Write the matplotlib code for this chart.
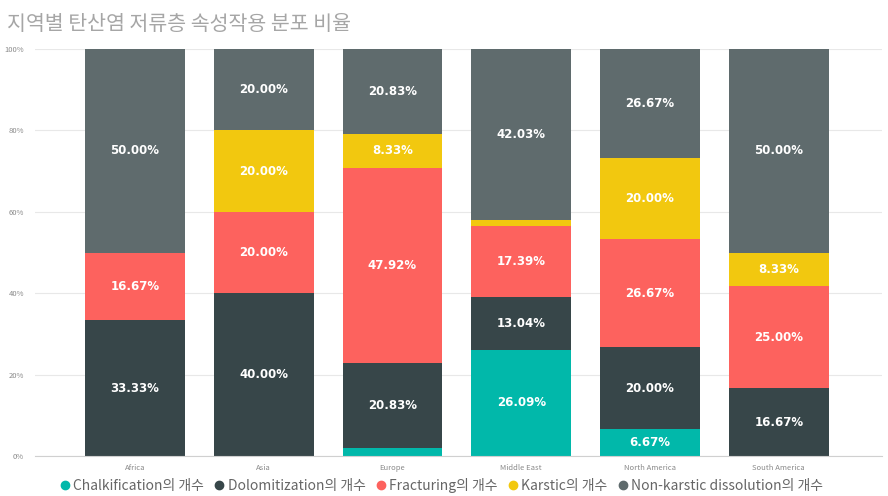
import numpy as np
import matplotlib.pyplot as plt
from matplotlib.lines import Line2D

plt.rcParams['font.family'] = ['Noto Sans CJK KR', 'DejaVu Sans']

regions = ['Africa', 'Asia', 'Europe', 'Middle East', 'North America', 'South America']
series = ['Chalkification', 'Dolomitization', 'Fracturing', 'Karstic', 'Non-karstic dissolution']

chalk = [0.00, 0.00, 2.08, 26.09, 6.67, 0.00]
dolo = [33.33, 40.00, 20.83, 13.04, 20.00, 16.67]
frac = [16.67, 20.00, 47.92, 17.39, 26.67, 25.00]
karst = [0.00, 20.00, 8.33, 1.45, 20.00, 8.33]
nonkarst = [50.00, 20.00, 20.83, 42.03, 26.67, 50.00]

colors = ['#01B8AA', '#374649', '#FD625E', '#F2C80F', '#5F6B6D']

data = np.array([chalk, dolo, frac, karst, nonkarst])

fig = plt.figure(figsize=(8.88, 4.96), dpi=100)
ax = fig.add_axes([0.0394, 0.0806, 0.9536, 0.8204])

x = np.arange(len(regions))
bottom = np.zeros(len(regions))
for vals, col in zip(data, colors):
    ax.bar(x, vals, 0.775, bottom=bottom, color=col, zorder=2)
    for xi, v, b in zip(x, vals, bottom):
        if v >= 5:
            ax.text(xi, b + v / 2, f'{v:.2f}%', ha='center', va='center',
                    color='white', fontsize=8.5, fontweight='bold',
                    family='DejaVu Sans', zorder=3)
    bottom += vals

ax.set_xlim(-0.776, 5.80)
ax.set_ylim(0, 100)
ax.set_yticks([0, 20, 40, 60, 80, 100])
ax.set_yticklabels(['0%', '20%', '40%', '60%', '80%', '100%'])
ax.set_xticks(x)
ax.set_xticklabels(regions)
ax.tick_params(length=0, labelsize=5.5, labelcolor='#8a8a8a')
ax.tick_params(axis='y', pad=8)
ax.tick_params(axis='x', pad=6)
ax.grid(axis='y', color='#e8e8e8', linewidth=0.8, zorder=0)
for s in ['top', 'right', 'left']:
    ax.spines[s].set_visible(False)
ax.spines['bottom'].set_color('#d0d0d0')

fig.text(0.008, 0.952, '지역별 탄산염 저류층 속성작용 분포 비율', fontsize=14.8,
         color='#a6a6a6', va='center')

handles = [Line2D([], [], marker='o', linestyle='', color=c, markersize=6)
           for c in colors]
labels = [s + '의 개수' for s in series]
fig.legend(handles, labels, loc='center', bbox_to_anchor=(0.496, 0.022), ncol=5,
           frameon=False, fontsize=10, handlelength=1.0, handletextpad=0.1,
           columnspacing=0.6, labelcolor='#666666', borderaxespad=0)

fig.savefig('out.png', dpi=100)
